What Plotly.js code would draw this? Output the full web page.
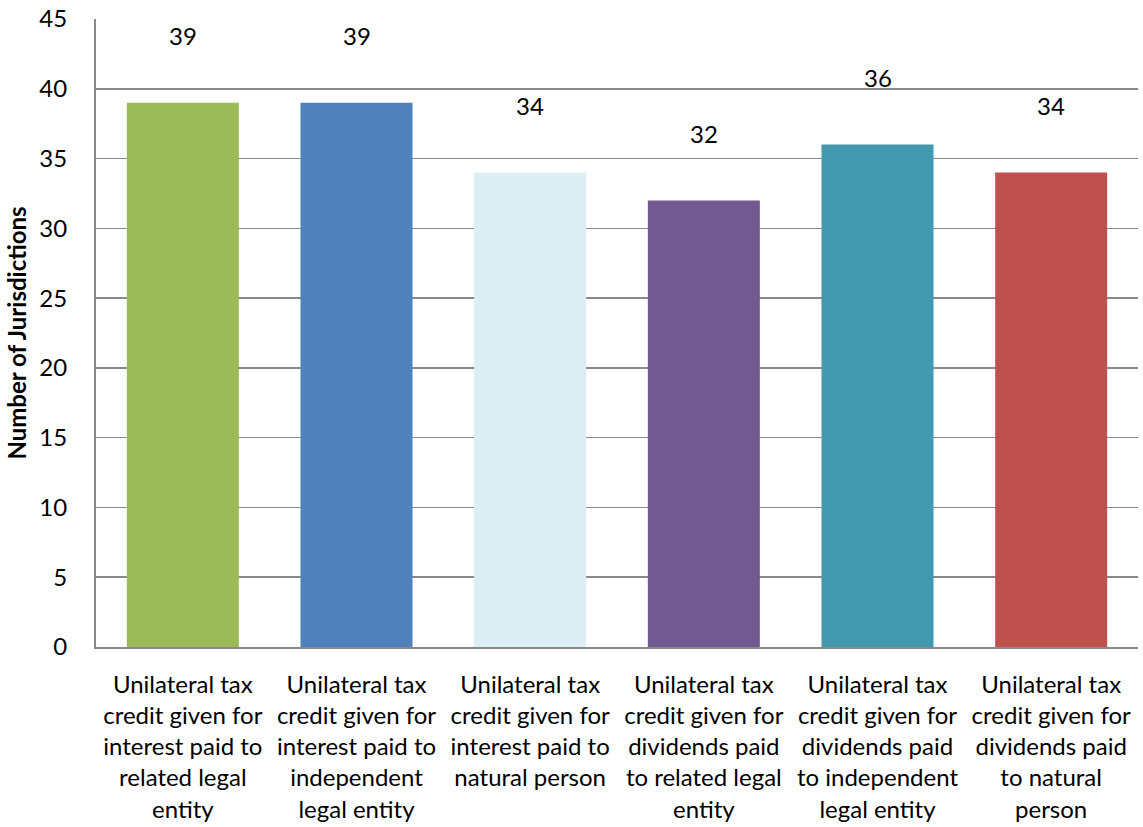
<!DOCTYPE html>
<html>
<head>
<meta charset="utf-8">
<script src="https://cdn.plot.ly/plotly-3.0.1.min.js"></script>
<style>html,body{margin:0;padding:0;background:#fff;}#chart{width:1143px;height:827px;}</style>
</head>
<body>
<div id="chart"></div>
<script>
const categories = [
  "Unilateral tax<br>credit given for<br>interest paid to<br>related legal<br>entity",
  "Unilateral tax<br>credit given for<br>interest paid to<br>independent<br>legal entity",
  "Unilateral tax<br>credit given for<br>interest paid to<br>natural person",
  "Unilateral tax<br>credit given for<br>dividends paid<br>to related legal<br>entity",
  "Unilateral tax<br>credit given for<br>dividends paid<br>to independent<br>legal entity",
  "Unilateral tax<br>credit given for<br>dividends paid<br>to natural<br>person"
];
const values = [39, 39, 34, 32, 36, 34];
const colors = ["#9BBB59", "#4F81BD", "#DBEEF4", "#725990", "#4198AF", "#C0504D"];
const yTitle = "Number of Jurisdictions";

const FONT = "Lato, 'Open Sans', sans-serif";

const trace = {
  type: "bar",
  x: categories,
  y: values,
  marker: {color: colors},
  hoverinfo: "none"
};

const annotations = categories.map((c, i) => ({
  x: c, y: values[i], xref: "x", yref: "y",
  text: String(values[i]), showarrow: false,
  yanchor: "middle", yshift: 67,
  font: {family: FONT, size: 24, color: "#000"}
}));

const layout = {
  width: 1143, height: 827,
  margin: {l: 96, r: 5, t: 19, b: 180},
  paper_bgcolor: "#fff", plot_bgcolor: "#fff",
  bargap: 0.355,
  showlegend: false,
  font: {family: FONT, size: 24, color: "#000"},
  xaxis: {
    type: "category",
    showline: true, linecolor: "#898989", linewidth: 2,
    ticks: "", tickangle: 0, ticklabelstandoff: 15,
    tickfont: {family: FONT, size: 24, color: "#000"},
    automargin: false
  },
  yaxis: {
    range: [0, 45], dtick: 5,
    showgrid: true, gridcolor: "#898989", gridwidth: 1.5,
    showline: true, linecolor: "#898989", linewidth: 2,
    zeroline: false,
    ticks: "", ticklabelstandoff: 22,
    tickfont: {family: FONT, size: 24, color: "#000"},
    title: {text: yTitle, font: {family: FONT, size: 24, color: "#000", weight: "bold"}, standoff: 6},
    automargin: false
  },
  annotations: annotations
};

Plotly.newPlot("chart", [trace], layout, {displayModeBar: false, staticPlot: true});
</script>
</body>
</html>
